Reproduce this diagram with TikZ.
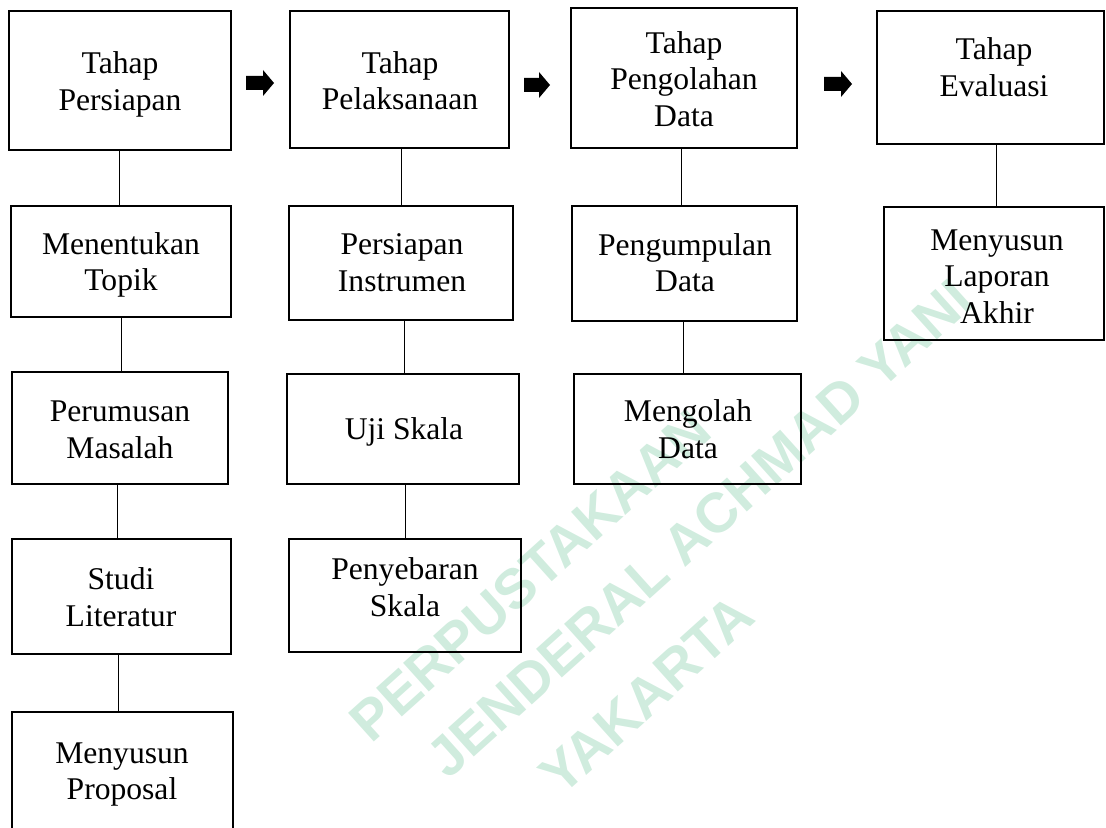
\documentclass[tikz,border=0pt]{standalone}
\usepackage{fontspec}
\setmainfont{Liberation Serif}
\newfontfamily\wmfont{Liberation Sans}
\definecolor{wmgreen}{RGB}{208,236,222}
\tikzset{
  boxst/.style={draw=black, line width=1pt, rectangle, inner sep=0pt},
  lbl/.style={align=center, font=\fontsize{15.8}{18.2}\selectfont, inner sep=0pt},
  link/.style={draw=black, line width=0.5pt},
  wmark/.style={text=wmgreen, font=\wmfont\bfseries\fontsize{28}{34}\selectfont, inner sep=0pt, rotate=42, anchor=base west},
  blockarrow/.style={fill=black}
}
\newcommand\mkbox[5]{\node[boxst, minimum width={(#4-#2)*0.5pt}, minimum height={(#5-#3)*0.5pt}] (#1) at ({(#2+#4)/2},{(#3+#5)/2}) {};}
\newcommand\mktext[4]{\node[lbl] (t#1) at (#2,{#3-7.3}) {#4};}
\newcommand\mkarrow[4]{\fill[blockarrow] (#2,{#4-7}) -- ({#3-11},{#4-7}) -- ({#3-11},{#4-13}) -- (#3,#4) -- ({#3-11},{#4+13}) -- ({#3-11},{#4+7}) -- (#2,{#4+7}) -- cycle; \coordinate (#1) at ({(#2+#3)/2},#4);}
\begin{document}
\begin{tikzpicture}[x=0.5pt,y=-0.5pt]
\useasboundingbox (0,0) rectangle (1106,828);
% watermark
\node[wmark] (wm1) at (371,745) {PERPUSTAKAAN};
\node[wmark] (wm2) at (448,781) {JENDERAL ACHMAD YANI};
\node[wmark] (wm3) at (561,798) {YAKARTA};
% boxes
\mkbox{A1}{9}{11}{231}{150}
\mkbox{A2}{11}{206}{231}{317}
\mkbox{A3}{12}{372}{228}{484}
\mkbox{A4}{12}{539}{231}{654}
\mkbox{A5}{12}{712}{233}{850}
\mkbox{B1}{290}{11}{509}{148}
\mkbox{B2}{289}{206}{513}{320}
\mkbox{B3}{287}{374}{519}{484}
\mkbox{B4}{289}{539}{521}{652}
\mkbox{C1}{571}{8}{797}{148}
\mkbox{C2}{572}{206}{797}{321}
\mkbox{C3}{574}{374}{801}{484}
\mkbox{D1}{877}{11}{1104}{144}
\mkbox{D2}{884}{207}{1104}{340}
% texts
\mktext{A1}{120}{92}{\strut Tahap\\\strut Persiapan}
\mktext{A2}{121}{272.5}{\strut Menentukan\\\strut Topik}
\mktext{A3}{120}{440}{\strut Perumusan\\\strut Masalah}
\mktext{A4}{121}{608}{\strut Studi\\\strut Literatur}
\mktext{A5}{122}{781.5}{\strut Menyusun\\\strut Proposal}
\mktext{B1}{400}{91.5}{\strut Tahap\\\strut Pelaksanaan}
\mktext{B2}{402}{273}{\strut Persiapan\\\strut Instrumen}
\mktext{B3}{404}{440}{\strut Uji Skala}
\mktext{B4}{405}{598}{\strut Penyebaran\\\strut Skala}
\mktext{C1}{684}{90}{\strut Tahap\\\strut Pengolahan\\\strut Data}
\mktext{C2}{685}{273.5}{\strut Pengumpulan\\\strut Data}
\mktext{C3}{688}{440}{\strut Mengolah\\\strut Data}
\mktext{D1}{994}{78}{\strut Tahap\\\strut Evaluasi}
\mktext{D2}{997}{287}{\strut Menyusun\\\strut Laporan\\\strut Akhir}
% connectors
\draw[link] ([xshift=-0.5pt]A1.south) -- ([xshift=-0.5pt]A1.south |- A2.north);
\draw[link] (A2.south) -- (A2.south |- A3.north);
\draw[link] ([xshift=-1.5pt]A3.south) -- ([xshift=-1.5pt]A3.south |- A4.north);
\draw[link] ([xshift=-1.75pt]A4.south) -- ([xshift=-1.75pt]A4.south |- A5.north);
\draw[link] ([xshift=0.75pt]B1.south) -- ([xshift=0.75pt]B1.south |- B2.north);
\draw[link] ([xshift=1.5pt]B2.south) -- ([xshift=1.5pt]B2.south |- B3.north);
\draw[link] ([xshift=1pt]B3.south) -- ([xshift=1pt]B3.south |- B4.north);
\draw[link] ([xshift=-1.5pt]C1.south) -- ([xshift=-1.5pt]C1.south |- C2.north);
\draw[link] ([xshift=-0.75pt]C2.south) -- ([xshift=-0.75pt]C2.south |- C3.north);
\draw[link] ([xshift=2.75pt]D1.south) -- ([xshift=2.75pt]D1.south |- D2.north);
% block arrows
\mkarrow{ar1}{246}{274}{83}
\mkarrow{ar2}{524}{550}{85}
\mkarrow{ar3}{824}{852}{84}
\end{tikzpicture}
\end{document}
